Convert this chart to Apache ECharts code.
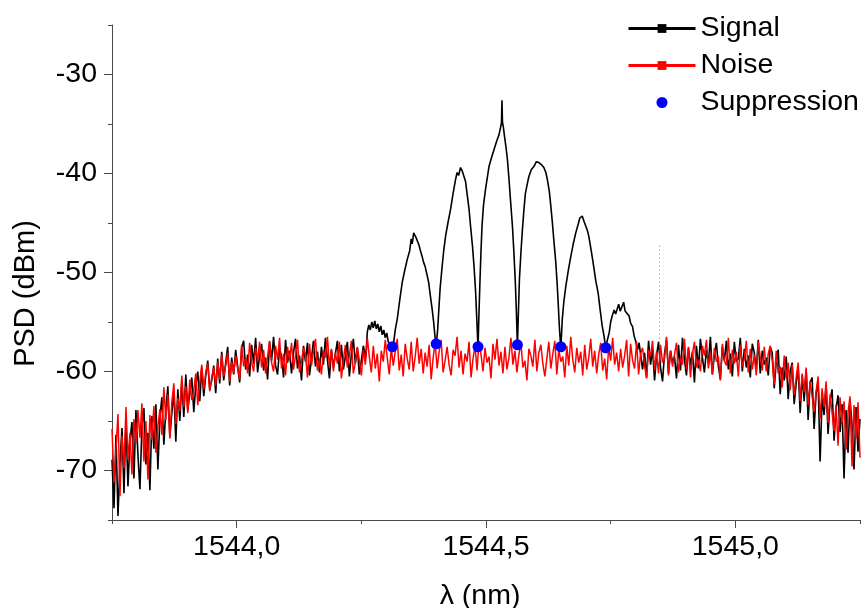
<!DOCTYPE html>
<html>
<head>
<meta charset="utf-8">
<script src="https://cdn.jsdelivr.net/npm/echarts@6/dist/echarts.min.js"></script>
<style>
  html, body { margin: 0; padding: 0; background: #ffffff; }
  #chart { width: 865px; height: 608px; }
</style>
</head>
<body>
<div id="chart"></div>
<script>
// Wavelength sampling grid of the OSA traces (nm)
const wlStart = 1543.75;
const wlStep = 0.004;

// Noise floor trace (dBm), one value per grid point
const noiseDb = [
  -65.8, -71.2, -67.9, -64.3, -72.6, -66.5, -69.8,
  -63.6, -68.9, -66.2, -70.4, -64.8, -67.3, -63.9,
  -66.7, -63.2, -69.1, -65.0, -70.9, -64.4, -66.9, -63.5, -68.2, -65.6, -63.8,
  -66.4, -61.6, -64.9, -62.3, -66.8, -63.1, -61.2, -65.3, -62.7, -64.0,
  -60.4, -63.6, -61.5, -64.2, -60.8, -62.9, -61.9, -60.2, -63.4, -61.1,
  -59.3, -61.8, -60.1, -59.2, -62.0, -60.6, -59.6, -61.4, -59.0, -60.8,
  -58.3, -60.5, -59.4, -58.1, -61.0, -59.0, -60.2, -58.4, -59.7, -60.8,
  -57.3, -59.5, -58.6, -60.2, -57.1, -59.0, -60.0, -57.6, -58.9, -57.0,
  -59.6, -57.8, -60.2, -58.5, -56.9, -59.1, -60.0, -57.4, -58.8, -56.6, -59.7, -58.2, -60.4, -57.5, -58.9, -57.1,
  -59.8, -58.4, -56.8, -60.1, -59.0, -57.6, -58.3, -60.6, -57.2, -59.4, -58.0, -56.7, -59.9, -58.7, -60.3, -57.9,
  -58.6, -56.5, -59.5, -57.7, -60.0, -58.1, -59.2, -57.0, -60.7, -58.8, -57.3, -59.6, -58.4, -56.9, -60.2, -59.1,
  -57.5, -58.9, -60.4, -57.8, -59.3, -56.6, -58.5, -60.1, -57.4, -59.7, -58.2, -61.0, -57.9, -59.0, -56.8, -58.6,
  -60.3, -57.6, -59.4, -58.0, -56.7, -59.9, -58.3, -60.5, -57.2, -58.7, -59.8, -57.0, -60.0, -58.5, -56.6, -59.2,
  -57.7, -60.2, -58.1, -59.5, -57.3, -60.8, -58.6, -57.1, -59.7, -58.0, -56.8, -60.1, -58.9, -57.5, -59.3, -60.4,
  -57.8, -58.4, -56.5, -59.6, -57.9, -60.3, -58.2, -59.0, -57.0, -60.6, -58.7, -57.4, -59.9, -56.9, -58.3, -60.0,
  -57.6, -59.1, -58.5, -60.7, -57.2, -58.8, -56.7, -59.4, -58.0, -60.2, -57.5, -59.8, -58.6, -56.6, -59.3, -57.9,
  -60.1, -58.3, -57.1, -59.6, -58.9, -60.9, -57.7, -58.4, -59.5, -56.8, -60.0, -58.1, -57.3, -59.2, -60.5, -58.7,
  -57.0, -59.7, -58.2, -56.9, -60.3, -57.8, -59.0, -58.5, -60.6, -57.4, -59.4, -56.5, -58.8, -60.1, -57.6, -59.1,
  -58.0, -60.4, -57.3, -59.8, -58.6, -56.7, -59.5, -57.9, -60.2, -58.3, -57.1, -59.9, -58.7, -60.8, -57.5, -58.9,
  -56.6, -59.3, -58.1, -60.0, -57.7, -59.6, -58.4, -56.8, -60.5, -57.2, -58.9, -59.7, -57.0, -60.3, -58.2, -57.6,
  -59.4, -60.7, -57.8, -58.5, -56.9, -59.9, -58.0, -60.2, -57.3, -59.1, -58.7, -56.5, -60.4, -57.9, -59.5, -58.3,
  -57.1, -60.1, -58.6, -59.3, -56.7, -59.8, -57.5, -60.6, -58.2, -57.0, -59.6, -58.8, -60.0, -57.4, -58.4, -56.8,
  -59.7, -58.1, -60.3, -57.6, -59.0, -58.5, -60.9, -57.2, -58.9, -59.4, -56.6, -60.2, -57.8, -59.2, -58.0, -60.5,
  -57.3, -59.5, -58.7, -56.9, -60.1, -57.7, -59.8, -58.3, -60.4, -57.0, -58.6, -59.9, -57.5, -60.0, -58.2, -57.4,
  -58.9, -61.3, -57.9, -60.2, -59.5, -61.6, -58.4, -60.7, -59.1, -61.9,
  -59.3, -62.4, -60.6, -59.1, -63.0, -60.2, -62.1, -59.6, -63.4, -61.0,
  -60.8, -64.1, -62.0, -60.5, -64.8, -61.7, -63.6, -61.0, -65.2, -62.3,
  -62.1, -66.0, -63.4, -67.5, -62.6, -65.2, -63.0, -67.9, -64.1, -62.5,
  -69.6, -63.4, -66.8, -63.1, -68.7
];

// Signal trace on the grid below the comb (from wlStart)
const signalLeftDb = [
  -68.9, -73.8, -66.4, -74.6, -69.2, -65.7, -72.3,
  -64.8, -71.6, -67.0, -65.1, -70.8, -63.9, -68.4,
  -71.9, -65.6, -63.7, -69.4, -66.2, -72.0, -64.5, -67.8, -63.3, -69.9, -64.7,
  -62.6, -67.4, -63.8, -61.5, -66.6, -64.2, -62.0, -67.1, -61.8, -65.0,
  -61.0, -64.6, -60.3, -63.9, -62.2, -60.6, -64.1, -61.4, -60.0, -63.0,
  -59.6, -62.5, -60.4, -58.9, -61.8, -60.9, -59.4, -62.2, -58.7, -61.2,
  -58.0, -60.9, -59.1, -57.5, -61.4, -58.6, -60.3, -57.8, -59.5, -61.1,
  -57.6, -56.9, -59.8, -58.3, -60.5, -57.3, -59.2, -56.6, -60.1, -58.4,
  -57.2, -59.9, -58.6, -60.8, -57.0, -58.9, -56.5, -59.4, -60.3, -57.7, -58.5, -60.6, -56.8, -59.1, -57.9, -60.2,
  -58.1, -56.7, -59.7, -58.4, -60.9, -57.4, -59.0, -57.1, -60.4, -58.7, -56.9, -59.5, -58.0, -60.1, -57.5, -59.3,
  -56.6, -58.8, -60.7, -57.8, -59.6, -58.2, -56.9, -60.0, -57.3, -59.8, -58.5, -57.0, -60.5, -58.3, -56.7, -59.2,
  -57.6, -60.3, -58.9, -57.4
];

// Signal trace on the grid above the comb (from signalRightStart)
const signalRightStart = 1544.810;
const signalRightDb = [
  -57.2, -59.8, -58.1, -60.6, -56.9, -59.3, -57.7, -60.9, -58.4, -57.0, -59.6, -61.0, -58.2, -56.8, -60.2, -57.9,
  -59.1, -58.5, -60.7, -57.3, -59.9, -56.6, -58.8, -60.4, -57.6, -59.4, -58.0, -61.1, -57.4, -59.7, -56.7, -58.6,
  -60.1, -57.8, -59.2, -56.5, -60.3, -58.3, -57.1, -59.5, -60.8, -57.5, -58.9, -56.9, -59.8, -58.2, -60.5, -57.0,
  -59.0, -58.7, -56.6, -60.0, -57.7, -59.6, -58.4, -60.6, -57.2, -58.1, -59.9, -56.8, -60.2, -57.9, -59.3, -58.6,
  -60.4, -57.5,
  -58.1, -61.7, -59.0, -57.8, -62.3, -59.6, -60.9, -58.5, -62.8, -60.0,
  -59.1, -63.3, -61.2, -59.6, -64.2, -60.4, -63.0, -59.8, -64.9, -61.1,
  -60.6, -65.8, -62.2, -61.0, -69.1, -62.7, -64.4, -61.4, -66.3, -62.9,
  -61.8, -67.0, -63.7, -62.4, -66.1, -63.3, -70.8, -63.9, -68.2, -62.8,
  -65.4, -69.9, -63.6, -68.1, -64.8
];

// Frequency comb section of the signal
const combWl = [
  1544.256, 1544.259, 1544.262, 1544.265, 1544.268, 1544.271, 1544.274, 1544.277, 1544.280, 1544.283,
  1544.286, 1544.289, 1544.292, 1544.295, 1544.298, 1544.301, 1544.304, 1544.308, 1544.312, 1544.315,
  1544.318, 1544.322, 1544.327, 1544.332, 1544.337, 1544.342, 1544.347, 1544.350, 1544.352, 1544.355,
  1544.358, 1544.360, 1544.363, 1544.366, 1544.368, 1544.372, 1544.375, 1544.378, 1544.382, 1544.385,
  1544.388, 1544.392, 1544.395, 1544.397, 1544.400, 1544.403, 1544.405, 1544.408, 1544.412, 1544.415,
  1544.419, 1544.424, 1544.429, 1544.434, 1544.439, 1544.442, 1544.445, 1544.449, 1544.452, 1544.455,
  1544.459, 1544.462, 1544.466, 1544.469, 1544.473, 1544.476, 1544.479, 1544.481, 1544.484, 1544.486,
  1544.488, 1544.490, 1544.492, 1544.495, 1544.499, 1544.503, 1544.506, 1544.511, 1544.516, 1544.521,
  1544.526, 1544.529, 1544.531, 1544.532, 1544.533, 1544.535, 1544.537, 1544.540, 1544.543, 1544.546,
  1544.549, 1544.553, 1544.556, 1544.559, 1544.561, 1544.563, 1544.565, 1544.567, 1544.570, 1544.573,
  1544.576, 1544.579, 1544.583, 1544.586, 1544.591, 1544.596, 1544.601, 1544.606, 1544.611, 1544.616,
  1544.620, 1544.623, 1544.627, 1544.630, 1544.633, 1544.636, 1544.640, 1544.643, 1544.645, 1544.647,
  1544.650, 1544.653, 1544.656, 1544.660, 1544.665, 1544.670, 1544.675, 1544.680, 1544.685, 1544.688,
  1544.690, 1544.693, 1544.697, 1544.700, 1544.703, 1544.706, 1544.711, 1544.716, 1544.720, 1544.725,
  1544.729, 1544.733, 1544.737, 1544.740, 1544.743, 1544.747, 1544.750, 1544.753, 1544.757, 1544.760,
  1544.763, 1544.766, 1544.769, 1544.773, 1544.776, 1544.779, 1544.783, 1544.787, 1544.790, 1544.794,
  1544.797, 1544.800, 1544.804, 1544.807
];
const combDb = [
  -57.9, -58.6, -56.0, -55.3, -55.8, -55.0, -55.6, -54.9, -55.7, -55.2,
  -56.0, -55.4, -56.3, -55.8, -56.6, -56.1, -57.0, -57.3, -57.8, -57.0,
  -55.8, -54.7, -52.8, -51.0, -49.8, -48.7, -47.8, -46.6, -47.1, -46.0,
  -45.8, -46.5, -46.9, -47.3, -47.7, -48.4, -49.0, -49.4, -50.3, -51.0,
  -52.2, -53.7, -55.0, -56.1, -57.5, -55.8, -54.1, -51.6, -49.4, -47.9,
  -46.3, -44.9, -43.6, -42.0, -40.6, -39.9, -40.2, -39.4, -39.7, -39.8,
  -40.8, -42.0, -43.6, -45.3, -47.4, -49.4, -51.8, -54.1, -57.6, -54.0,
  -50.7, -47.8, -45.3, -43.2, -41.6, -40.3, -39.3, -38.4, -37.6, -36.8,
  -36.1, -35.4, -34.9, -32.6, -34.8, -35.4, -36.2, -37.3, -38.6, -40.5,
  -42.6, -45.3, -48.0, -51.2, -54.1, -57.5, -54.0, -50.7, -48.0, -45.7,
  -43.7, -42.0, -41.0, -40.3, -39.6, -39.3, -38.8, -38.9, -39.1, -39.4,
  -39.9, -40.6, -41.8, -43.3, -44.9, -46.7, -49.0, -51.4, -53.3, -55.4,
  -57.7, -54.7, -53.0, -51.4, -49.8, -48.4, -47.1, -46.0, -45.1, -44.5,
  -44.6, -44.3, -44.9, -45.0, -45.7, -46.3, -47.8, -49.4, -50.8, -52.1,
  -53.8, -55.4, -56.5, -57.7, -56.9, -56.1, -55.0, -54.4, -53.8, -54.2,
  -53.7, -53.2, -53.9, -53.4, -53.0, -53.9, -53.7, -54.4, -55.1, -55.5,
  -56.4, -56.9, -57.8, -57.1
];

// Isolated single-sample spike in the signal trace
const spikeWl = [1544.848, 1544.848];
const spikeDb = [-58.3, -47.3];

// Suppression points at the comb nulls
const suppWl = [1544.312, 1544.400, 1544.484, 1544.563, 1544.650, 1544.740];
const suppDb = [-57.5, -57.2, -57.5, -57.3, -57.5, -57.6];

// Axis ticks
const xMajorTicks = [1544.0, 1544.5, 1545.0];
const xMinorTicks = [1543.75, 1544.25, 1544.75, 1545.25];
const yMajorTicks = [-70, -60, -50, -40, -30];
const yMinorTicks = [-75, -65, -55, -45, -35, -25];

const FONT = "'Liberation Sans', Arial, sans-serif";
const AXIS_COLOR = '#4a4a4a';

const onGrid = (start, i) => +(start + i * wlStep).toFixed(3);

const noiseData = noiseDb.map((v, i) => [onGrid(wlStart, i), v]);

const signalData = [];
signalLeftDb.forEach((v, i) => signalData.push([onGrid(wlStart, i), v]));
combWl.forEach((w, i) => signalData.push([w, combDb[i]]));
signalRightDb.forEach((v, i) => signalData.push([onGrid(signalRightStart, i), v]));

const spikeData = spikeWl.map((w, i) => [w, spikeDb[i]]);
const suppData = suppWl.map((w, i) => [w, suppDb[i]]);

const xRange = { min: 1543.75, max: 1545.25 };
const yRange = { min: -75, max: -25 };

const chart = echarts.init(document.getElementById('chart'), null, { renderer: 'canvas' });

chart.setOption({
  animation: false,
  backgroundColor: '#ffffff',
  textStyle: { fontFamily: FONT },
  grid: { left: 112, right: 5, top: 25, bottom: 88, containLabel: false, outerBoundsMode: 'none' },
  legend: {
    data: ['Signal', 'Noise', 'Suppression'],
    orient: 'vertical',
    left: 627,
    top: 14,
    padding: 0,
    itemWidth: 67,
    itemHeight: 11,
    itemGap: 8,
    lineStyle: { width: 3 },
    textStyle: { fontFamily: FONT, fontSize: 28.5, color: '#000', lineHeight: 28 },
    selectedMode: false
  },
  xAxis: [
    {
      type: 'value',
      min: xRange.min,
      max: xRange.max,
      name: 'λ (nm)',
      nameLocation: 'middle',
      nameGap: 62,
      nameTextStyle: { fontFamily: FONT, fontSize: 28.5, color: '#000', padding: [0, 12, 0, 0] },
      axisLine: { show: true, onZero: false, lineStyle: { color: AXIS_COLOR, width: 1 } },
      axisTick: { show: true, length: 8, customValues: xMajorTicks, lineStyle: { color: AXIS_COLOR } },
      axisLabel: {
        customValues: xMajorTicks,
        margin: 13,
        fontFamily: FONT, fontSize: 28.5, color: '#000',
        formatter: v => v.toFixed(1).replace('.', ',')
      },
      splitLine: { show: false }
    },
    {
      type: 'value',
      min: xRange.min,
      max: xRange.max,
      position: 'bottom',
      axisLine: { show: false, onZero: false },
      axisTick: { show: true, length: 4, customValues: xMinorTicks, lineStyle: { color: AXIS_COLOR } },
      axisLabel: { show: false },
      splitLine: { show: false }
    }
  ],
  yAxis: [
    {
      type: 'value',
      min: yRange.min,
      max: yRange.max,
      name: 'PSD (dBm)',
      nameLocation: 'middle',
      nameRotate: 90,
      nameGap: 72,
      nameTextStyle: { fontFamily: FONT, fontSize: 29, color: '#000', padding: [0, 42, 0, 0] },
      axisLine: { show: true, onZero: false, lineStyle: { color: AXIS_COLOR, width: 1 } },
      axisTick: { show: true, length: 8, customValues: yMajorTicks, lineStyle: { color: AXIS_COLOR } },
      axisLabel: {
        customValues: yMajorTicks,
        margin: 15,
        fontFamily: FONT, fontSize: 28.5, color: '#000'
      },
      splitLine: { show: false }
    },
    {
      type: 'value',
      min: yRange.min,
      max: yRange.max,
      position: 'left',
      axisLine: { show: false, onZero: false },
      axisTick: { show: true, length: 4, customValues: yMinorTicks, lineStyle: { color: AXIS_COLOR } },
      axisLabel: { show: false },
      splitLine: { show: false }
    }
  ],
  series: [
    {
      name: 'Signal',
      type: 'line',
      data: signalData,
      symbol: 'rect',
      symbolSize: 8,
      showSymbol: false,
      color: '#000000',
      lineStyle: { color: '#000000', width: 1.6 },
      itemStyle: { color: '#000000' },
      emphasis: { disabled: true },
      z: 2
    },
    {
      name: 'Signal',
      type: 'line',
      data: spikeData,
      symbol: 'none',
      lineStyle: { color: '#7a7a7a', width: 1, type: [1, 3] },
      emphasis: { disabled: true },
      z: 2
    },
    {
      name: 'Noise',
      type: 'line',
      data: noiseData,
      symbol: 'rect',
      symbolSize: 8,
      showSymbol: false,
      color: '#ff0000',
      lineStyle: { color: '#ff0000', width: 1.5 },
      itemStyle: { color: '#ff0000' },
      emphasis: { disabled: true },
      z: 3
    },
    {
      name: 'Suppression',
      type: 'scatter',
      data: suppData,
      symbol: 'circle',
      symbolSize: 11,
      itemStyle: { color: '#0000ff', opacity: 1 },
      emphasis: { disabled: true },
      z: 4
    }
  ]
});
</script>
</body>
</html>
